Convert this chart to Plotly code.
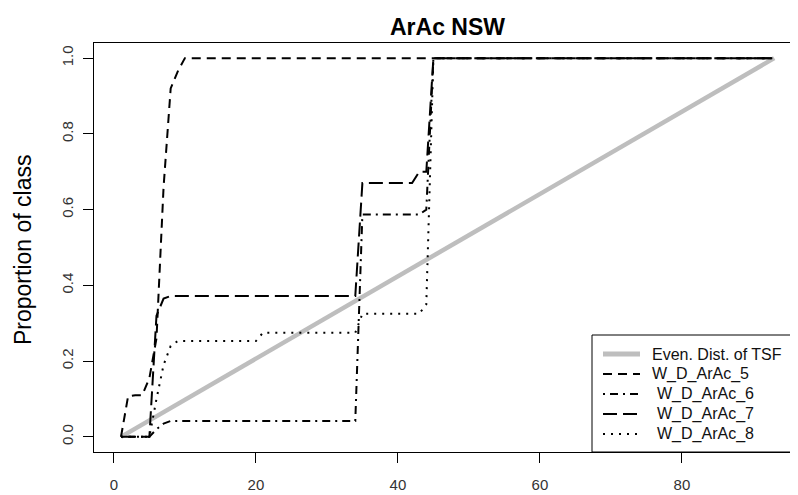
import plotly.graph_objects as go

# ---------------- data ----------------
title_text = "ArAc NSW"
y_title = "Proportion of class"

even_x = [1, 93]
even_y = [0.0, 1.0]

s5_x = [1, 2, 3, 4, 5, 6, 7, 8, 9, 10, 93]
s5_y = [0.0, 0.107, 0.11, 0.11, 0.155, 0.26, 0.66, 0.92, 0.965, 1.0, 1.0]

s6_x = [1, 5, 6, 7, 8, 34, 35, 43, 44, 45, 93]
s6_y = [0.0, 0.0, 0.02, 0.035, 0.042, 0.042, 0.587, 0.587, 0.6, 1.0, 1.0]

s7_x = [1, 5, 6, 7, 8, 34, 35, 42, 43, 44, 45, 93]
s7_y = [0.0, 0.0, 0.32, 0.365, 0.372, 0.372, 0.67, 0.67, 0.70, 0.70, 1.0, 1.0]

s8_x = [1, 5, 6, 7, 8, 9, 20, 21, 34, 35, 43, 44, 45, 93]
s8_y = [0.0, 0.0, 0.10, 0.19, 0.24, 0.253, 0.253, 0.275, 0.275, 0.325, 0.325, 0.35, 1.0, 1.0]

legend_labels = ["Even. Dist. of TSF", "W_D_ArAc_5", "W_D_ArAc_6", "W_D_ArAc_7", "W_D_ArAc_8"]

x_ticks = [0, 20, 40, 60, 80]
y_ticks = [0.0, 0.2, 0.4, 0.6, 0.8, 1.0]

# ---------------- styles ----------------
# the page body adds an 8px margin, so the figure is built 8px smaller and
# every target position (given in window pixels) is shifted by OFF
OFF = 8
W, H = 798 - OFF, 495 - OFF
ML, MR = 94 - OFF, 0
MT = 43 - OFF
MB = H - (452 - OFF)
FONT = "Liberation Sans, Arial, sans-serif"
GRAY = "#BEBEBE"
DASHES = {
    "dashed": "9px,6px",
    "dotdash": "2px,5px,8px,5px",
    "longdash": "14px,6px",
    "dotted": "2px,6px",
}

series = [
    (even_x, even_y, GRAY, 4.5, "solid"),
    (s5_x, s5_y, "black", 2, DASHES["dashed"]),
    (s6_x, s6_y, "black", 2, DASHES["dotdash"]),
    (s7_x, s7_y, "black", 2, DASHES["longdash"]),
    (s8_x, s8_y, "black", 2, DASHES["dotted"]),
]

fig = go.Figure()
for (xs, ys, col, lw, dash), name in zip(series, legend_labels):
    fig.add_trace(go.Scatter(x=xs, y=ys, mode="lines", name=name,
                             line=dict(color=col, width=lw, dash=dash),
                             showlegend=False, hoverinfo="skip"))

pw = W - ML - MR
ph = H - MT - MB

def px_x(p):
    return (p - OFF - ML) / pw

def px_y(p):
    return 1 - (p - OFF - MT) / ph

shapes = []
annotations = []

# legend box (bottom right of plot region, as in R's "bottomright")
shapes.append(dict(type="rect", xref="paper", yref="paper",
                   x0=px_x(592), x1=px_x(806), y0=px_y(452), y1=px_y(335),
                   line=dict(color="black", width=1), fillcolor="white", layer="above"))
row_y = [354, 374, 394, 414, 434]
text_x = [650, 650, 655, 655, 655]
for i, ((xs, ys, col, lw, dash), lab) in enumerate(zip(series, legend_labels)):
    ly = px_y(row_y[i])
    shapes.append(dict(type="line", xref="paper", yref="paper",
                       x0=px_x(603), x1=px_x(640), y0=ly, y1=ly,
                       line=dict(color=col, width=(5 if i == 0 else 2), dash=dash),
                       layer="above"))
    annotations.append(dict(text=lab, xref="paper", yref="paper",
                            x=px_x(text_x[i]), y=ly, xanchor="left", yanchor="middle",
                            showarrow=False, font=dict(family=FONT, size=16, color="#111")))

annotations.append(dict(text="<b>" + title_text + "</b>", xref="paper", yref="paper",
                        x=px_x(447), y=px_y(27), xanchor="center", yanchor="middle",
                        showarrow=False, font=dict(family=FONT, size=23, color="black")))
annotations.append(dict(text=y_title, xref="paper", yref="paper",
                        x=px_x(23), y=px_y(250), xanchor="center", yanchor="middle",
                        textangle=-90, showarrow=False,
                        font=dict(family=FONT, size=23, color="black")))

fig.update_layout(
    width=W, height=H,
    margin=dict(l=ML, r=MR, t=MT, b=MB, pad=0, autoexpand=False),
    paper_bgcolor="white", plot_bgcolor="white",
    font=dict(family=FONT, size=14, color="#333"),
    shapes=shapes, annotations=annotations,
    showlegend=False,
)
fig.update_xaxes(range=[-2.8, 96.35], tickvals=x_ticks, ticktext=[str(v) for v in x_ticks],
                 showgrid=False, zeroline=False, showline=True, mirror=True, automargin=False,
                 linecolor="black", linewidth=1, ticks="outside", ticklen=10,
                 tickcolor="black", tickwidth=1, ticklabelstandoff=9,
                 tickfont=dict(family=FONT, size=15, color="#333"))
fig.update_yaxes(range=[-0.04, 1.04], tickvals=y_ticks, ticktext=["%.1f" % v for v in y_ticks],
                 showgrid=False, zeroline=False, showline=True, mirror=True, automargin=False,
                 linecolor="black", linewidth=1, ticks="outside", ticklen=10,
                 tickcolor="black", tickwidth=1, tickangle=-90, ticklabelstandoff=4,
                 tickfont=dict(family=FONT, size=15, color="#333"))

fig.write_html("out.html")
